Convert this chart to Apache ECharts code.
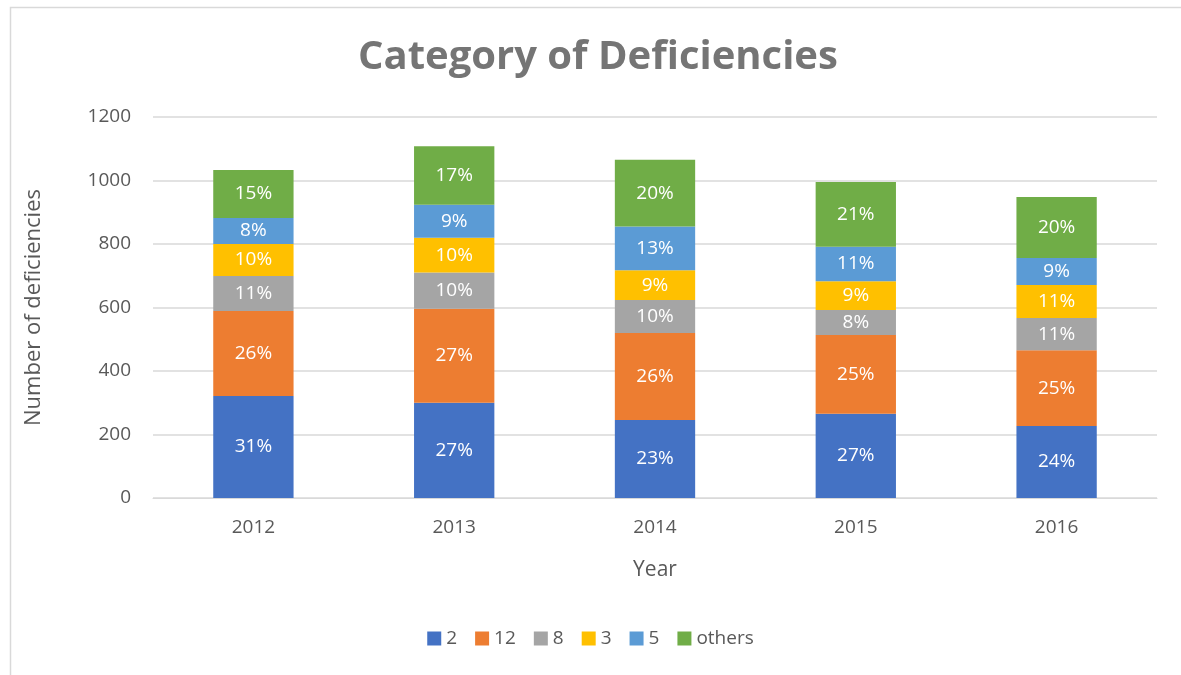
<!DOCTYPE html>
<html><head><meta charset="utf-8">
<script src="https://cdn.jsdelivr.net/npm/echarts@6/dist/echarts.min.js"></script>
<style>html,body{margin:0;padding:0;background:#fff}#c{width:1181px;height:675px}</style>
</head><body><div id="c"></div>
<script>
const years = ['2012','2013','2014','2015','2016'];
const seriesNames = ['2','12','8','3','5','others'];
const s2 = [321, 300, 246, 265, 227];
const s12 = [268, 296, 274, 248, 238];
const s8 = [110, 114, 104, 79, 102];
const s3 = [101, 110, 93, 91, 104];
const s5 = [82, 104, 138, 108, 85];
const sOthers = [151, 184, 210, 204, 192];
const yTicks = [0, 200, 400, 600, 800, 1000, 1200];
const colors = ['#4472C4','#ED7D31','#A5A5A5','#FFC000','#5B9BD5','#70AD47'];
const allData = [s2, s12, s8, s3, s5, sOthers];
const totals = years.map((_, i) => allData.reduce((a, s) => a + s[i], 0));
const font = '"Open Sans", "Liberation Sans", sans-serif';
const chart = echarts.init(document.getElementById('c'), null, {renderer:'canvas'});
chart.setOption({
  animation: false,
  textStyle: {fontFamily: font},
  graphic: [{type:'rect', left:8, top:5, shape:{width:1200, height:700}, style:{fill:'none', stroke:'#d9d9d9', lineWidth:1.5}, silent:true}],
  title: {text:'Category of Deficiencies', left:353, top:33, textStyle:{fontFamily:font, fontSize:40, fontWeight:'bold', color:'#757575'}},
  legend: {bottom:22, left:'center', itemWidth:14, itemHeight:14, itemGap:18, icon:'rect',
    textStyle:{fontFamily:font, fontSize:19, color:'#595959'}, data: seriesNames},
  grid: {left:153, right:24, top:117, bottom:177},
  xAxis: {type:'category', data:years, name:'Year', nameLocation:'middle', nameGap:62,
    nameTextStyle:{fontFamily:font, fontSize:21, color:'#595959'},
    axisLine:{lineStyle:{color:'#d9d9d9'}}, axisTick:{show:false},
    axisLabel:{fontFamily:font, fontSize:19, color:'#595959', margin:20}},
  yAxis: {type:'value', min:yTicks[0], max:yTicks[yTicks.length-1], interval:200,
    name:'Number of deficiencies', nameLocation:'middle', nameGap:108,
    nameTextStyle:{fontFamily:font, fontSize:22, color:'#595959'},
    axisLine:{show:false}, axisTick:{show:false},
    splitLine:{lineStyle:{color:'#d9d9d9', width:1.5}},
    axisLabel:{fontFamily:font, fontSize:19, color:'#595959', margin:22, formatter: v => String(v)}},
  series: seriesNames.map((n, k) => ({
    name:n, type:'bar', stack:'total', barWidth:'40%', data: allData[k],
    itemStyle:{color:colors[k]},
    label:{show:true, position:'inside', color:'#fff', fontFamily:font, fontSize:19,
      formatter: p => Math.round(p.value / totals[p.dataIndex] * 100) + '%'}
  }))
});
</script></body></html>
